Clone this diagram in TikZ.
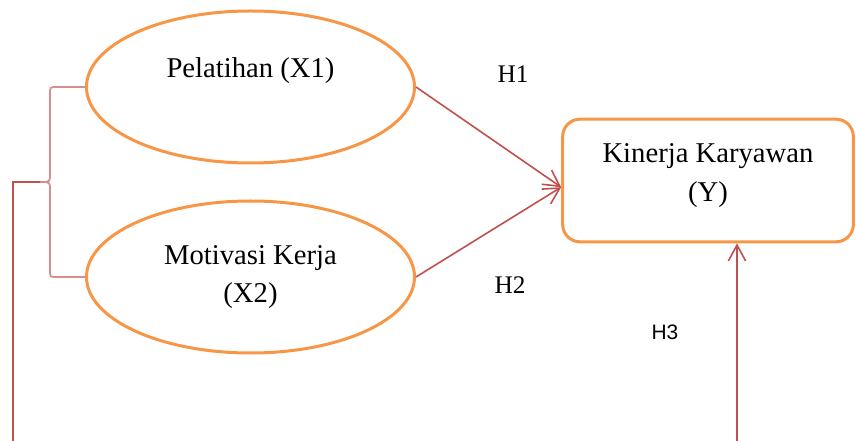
\documentclass[tikz,border=0pt]{standalone}
\usepackage{fontspec}
\setmainfont{Liberation Serif}
\newfontfamily\hfont{Liberation Sans}
\usetikzlibrary{shapes.geometric,arrows.meta}
\definecolor{boxorange}{RGB}{247,150,70}
\definecolor{linkred}{RGB}{192,80,77}

\begin{document}
\begin{tikzpicture}[x=0.75pt,y=-0.75pt,
    var/.style={ellipse,draw=boxorange,line width=2.25pt,minimum width=246pt,minimum height=114pt,align=center,font=\fontsize{21.5}{29}\selectfont},
    target/.style={rectangle,rounded corners=13pt,draw=boxorange,line width=2.25pt,minimum width=218pt,minimum height=92pt,align=center,font=\fontsize{21.5}{29}\selectfont},
    link/.style={draw=linkred,line width=1.2pt},
    arr/.style={link,-{Straight Barb[length=12pt,width=13pt]}},
    hyp/.style={font=\fontsize{19}{23}\selectfont}]
    \useasboundingbox (0,0) rectangle (856,441);

    % Variables
    \node[var] (X1) at (250.5,87) {Pelatihan (X1)\\\mbox{}};
    \node[var] (X2) at (250.5,277) {Motivasi Kerja\\(X2)};
    \node[target] (Y) at (708,180.5) {Kinerja Karyawan\\(Y)\\[-17pt]\mbox{}};

    % Hypotheses
    \draw[arr] (X1.east) -- ([yshift=-5pt]Y.west);
    \draw[arr] (X2.east) -- ([yshift=-5pt]Y.west);
    \node[hyp] (h1) at (513,74) {H1};
    \node[hyp] (h2) at (510,285) {H2};
    \node[font=\hfont\fontsize{15.7}{19}\selectfont] (h3) at (665,332) {H3};

    % Joint effect
    \coordinate (tip) at (40,182);
    \coordinate (drop) at (13,441);
    \coordinate (foot) at (737,441);
    \draw[link,line width=1.3pt,draw=linkred!65] (X1.west) -- (57,87) .. controls (50,87) .. (50,94) -- (50,174)
        .. controls (50,182) .. (tip) .. controls (50,182) .. (50,190) -- (50,270)
        .. controls (50,277) .. (57,277) -- (X2.west);
    \draw[link] (tip) -| (drop);
    \draw[arr] (foot) -- (foot |- Y.south);
\end{tikzpicture}
\end{document}
